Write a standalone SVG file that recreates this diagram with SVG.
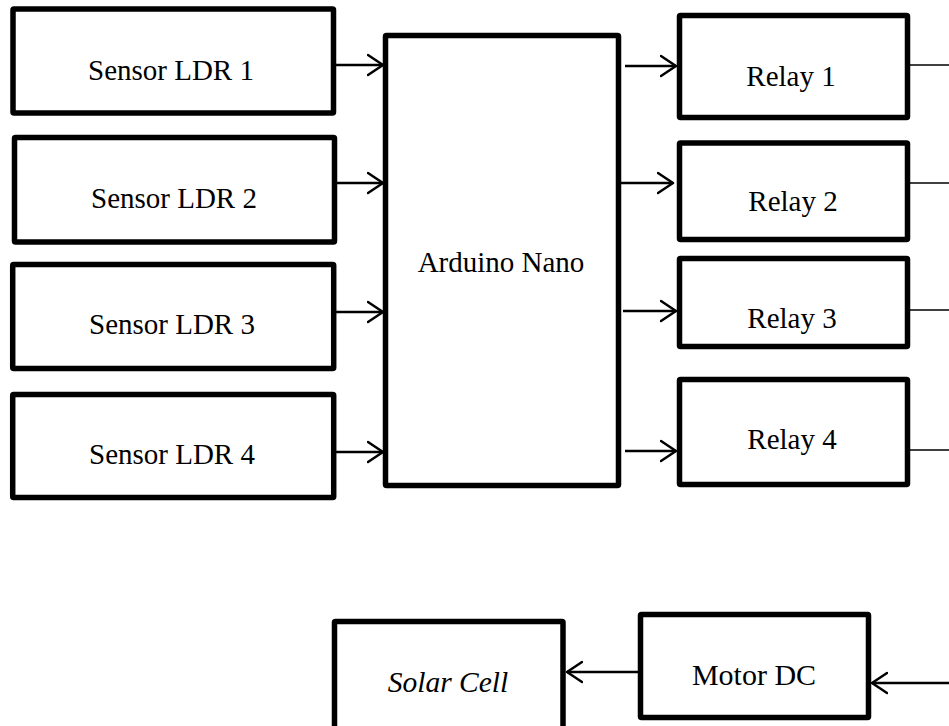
<svg xmlns="http://www.w3.org/2000/svg" width="949" height="726" viewBox="0 0 949 726">
<style>
.box{fill:#fff;stroke:#000;stroke-width:5.5;stroke-linejoin:round}
.lbl{font-family:"Liberation Serif","Times New Roman",serif;font-size:29px;fill:#000;text-anchor:middle}
.it{font-style:italic}
.con{fill:none;stroke:#000;stroke-width:2.5}
.out{fill:none;stroke:#000;stroke-width:1.6}
</style>
<defs>
<marker id="ah" markerUnits="userSpaceOnUse" markerWidth="20" markerHeight="24" refX="16" refY="11" orient="auto" viewBox="0 0 20 22">
<path d="M1,1 L16,11 L1,21" fill="none" stroke="#000" stroke-width="2.5" stroke-linecap="round" stroke-linejoin="round"/>
</marker>
</defs>
<rect width="949" height="726" fill="#fff"/>
<g id="connectors">
<line class="con" x1="336" y1="65" x2="383" y2="65" marker-end="url(#ah)"/>
<line class="con" x1="337" y1="183" x2="383" y2="183" marker-end="url(#ah)"/>
<line class="con" x1="336" y1="312" x2="383" y2="312" marker-end="url(#ah)"/>
<line class="con" x1="336" y1="452" x2="383" y2="452" marker-end="url(#ah)"/>
<line class="con" x1="625" y1="66" x2="676" y2="66" marker-end="url(#ah)"/>
<line class="con" x1="621" y1="183" x2="673" y2="183" marker-end="url(#ah)"/>
<line class="con" x1="623" y1="311" x2="676" y2="311" marker-end="url(#ah)"/>
<line class="con" x1="625" y1="451" x2="676" y2="451" marker-end="url(#ah)"/>
<line class="out" x1="910" y1="65" x2="949" y2="65"/>
<line class="out" x1="910" y1="183" x2="949" y2="183"/>
<line class="out" x1="910" y1="310" x2="949" y2="310"/>
<line class="out" x1="910" y1="450" x2="949" y2="450"/>
<line class="con" x1="638" y1="672" x2="567" y2="672" marker-end="url(#ah)"/>
<line class="con" x1="949" y1="683" x2="872" y2="683" marker-end="url(#ah)"/>
</g>
<g id="ldr1"><rect class="box" x="13" y="9" width="320.5" height="104" rx="1"/><text class="lbl" x="171" y="80">Sensor LDR 1</text></g>
<g id="ldr2"><rect class="box" x="14.5" y="137.5" width="320" height="104.5" rx="1"/><text class="lbl" x="174" y="208">Sensor LDR 2</text></g>
<g id="ldr3"><rect class="box" x="12.7" y="264.5" width="321" height="104" rx="1"/><text class="lbl" x="172" y="334">Sensor LDR 3</text></g>
<g id="ldr4"><rect class="box" x="12.7" y="394.5" width="321" height="103" rx="1"/><text class="lbl" x="172" y="464">Sensor LDR 4</text></g>
<g id="arduino"><rect class="box" x="385.5" y="35.5" width="233" height="450" rx="1"/><text class="lbl" x="501" y="272">Arduino Nano</text></g>
<g id="relay1"><rect class="box" x="679.5" y="15.5" width="228" height="102" rx="1"/><text class="lbl" x="791" y="86">Relay 1</text></g>
<g id="relay2"><rect class="box" x="679.5" y="143" width="228" height="96.5" rx="1"/><text class="lbl" x="793" y="211">Relay 2</text></g>
<g id="relay3"><rect class="box" x="679.5" y="258.5" width="228" height="88" rx="1"/><text class="lbl" x="792" y="328">Relay 3</text></g>
<g id="relay4"><rect class="box" x="679.5" y="379.5" width="228" height="105" rx="1"/><text class="lbl" x="792" y="449">Relay 4</text></g>
<g id="solar"><rect class="box" x="334.5" y="621.5" width="228.5" height="115" rx="1"/><text class="lbl it" x="448" y="692" style="font-size:29.5px">Solar Cell</text></g>
<g id="motor"><rect class="box" x="640.5" y="614.5" width="228" height="103" rx="1"/><text class="lbl" x="754" y="685" style="font-size:30px">Motor DC</text></g>
</svg>
